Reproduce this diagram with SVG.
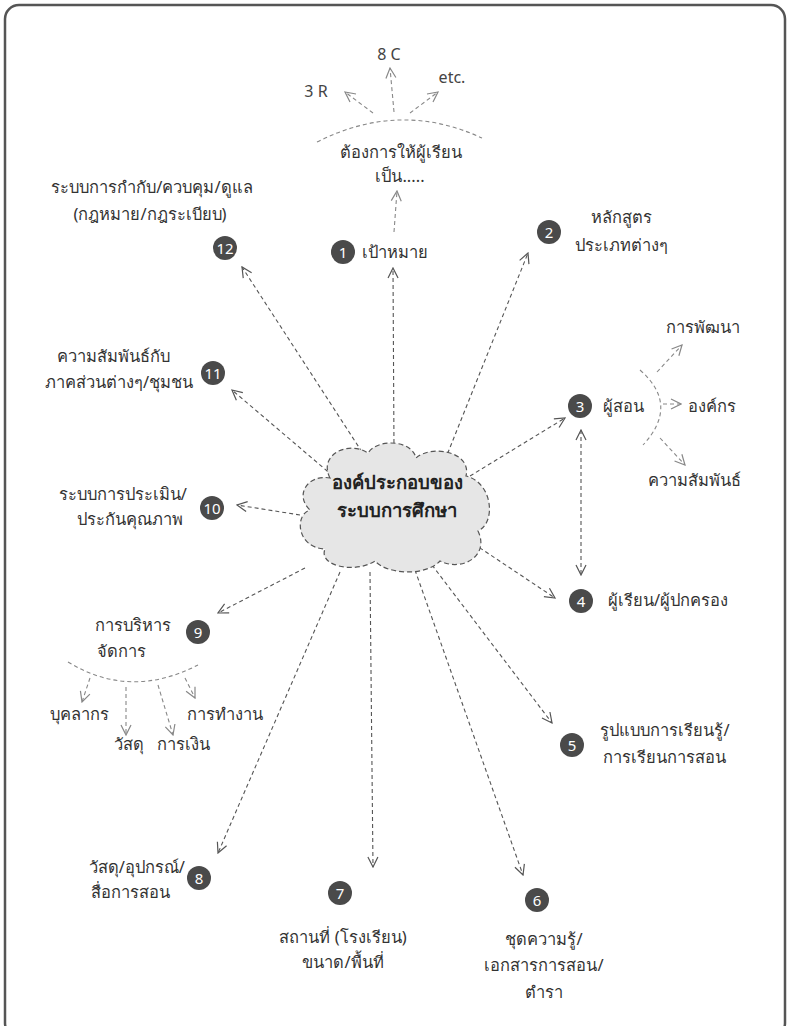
<svg xmlns="http://www.w3.org/2000/svg" width="789" height="1026" viewBox="0 0 789 1026">
<defs>
<marker id="ah" viewBox="0 0 12 12" refX="11" refY="6" markerWidth="12" markerHeight="12" markerUnits="userSpaceOnUse" orient="auto">
<path d="M1,1 L11,6 L1,11" fill="none" stroke="#555" stroke-width="1.2"/>
</marker>
<marker id="ah2" viewBox="0 0 12 12" refX="11" refY="6" markerWidth="12" markerHeight="12" markerUnits="userSpaceOnUse" orient="auto">
<path d="M1,1 L11,6 L1,11" fill="none" stroke="#888" stroke-width="1.2"/>
</marker>
<marker id="ahs" viewBox="0 0 12 12" refX="1" refY="6" markerWidth="12" markerHeight="12" markerUnits="userSpaceOnUse" orient="auto">
<path d="M11,1 L1,6 L11,11" fill="none" stroke="#555" stroke-width="1.2"/>
</marker>
</defs>
<style>
text{font-family:"Noto Sans","Liberation Sans",sans-serif;font-size:16.5px;fill:#333}
.lat{font-size:16px;fill:#444}
.c{text-anchor:middle}
.e{text-anchor:end}
.num{font-size:15px;fill:#fff;text-anchor:middle}
.badge{fill:#4a4a4a}
.conn{fill:none;stroke:#555;stroke-width:1.1;stroke-dasharray:4 3}
.sub{fill:none;stroke:#888;stroke-width:1.1;stroke-dasharray:4 3}
.title{font-size:18.5px;font-weight:bold;fill:#222;text-anchor:middle}
</style>
<rect x="5" y="5" width="780" height="1032" rx="14" fill="#fff" stroke="#555" stroke-width="2.5"/>

<g id="connectors">
<line class="conn" x1="362" y1="452" x2="242" y2="267" marker-end="url(#ah)"/>
<line class="conn" x1="394" y1="450" x2="393" y2="268" marker-end="url(#ah)"/>
<line class="conn" x1="445" y1="460" x2="528" y2="253" marker-end="url(#ah)"/>
<line class="conn" x1="333" y1="476" x2="232" y2="390" marker-end="url(#ah)"/>
<line class="conn" x1="470" y1="476" x2="565" y2="418" marker-end="url(#ah)"/>
<line class="conn" x1="300" y1="515" x2="237" y2="505" marker-end="url(#ah)"/>
<line class="conn" x1="462" y1="536" x2="555" y2="598" marker-end="url(#ah)"/>
<line class="conn" x1="305" y1="568" x2="218" y2="613" marker-end="url(#ah)"/>
<line class="conn" x1="432" y1="565" x2="552" y2="723" marker-end="url(#ah)"/>
<line class="conn" x1="340" y1="572" x2="218" y2="853" marker-end="url(#ah)"/>
<line class="conn" x1="370" y1="572" x2="373" y2="867" marker-end="url(#ah)"/>
<line class="conn" x1="415" y1="570" x2="523" y2="875" marker-end="url(#ah)"/>
<line class="conn" x1="581" y1="430" x2="581" y2="575" marker-start="url(#ahs)" marker-end="url(#ah)"/>
<line class="sub" x1="394" y1="232" x2="397" y2="191" marker-end="url(#ah2)"/>
<path class="sub" d="M317,142 Q400,100 482,138"/>
<line class="sub" x1="373" y1="113" x2="345" y2="92" marker-end="url(#ah2)"/>
<line class="sub" x1="394" y1="112" x2="390" y2="68" marker-end="url(#ah2)"/>
<line class="sub" x1="410" y1="113" x2="438" y2="92" marker-end="url(#ah2)"/>
<path class="sub" d="M640,370 Q680,405 643,445"/>
<line class="sub" x1="657" y1="372" x2="682" y2="345" marker-end="url(#ah2)"/>
<line class="sub" x1="663" y1="404" x2="681" y2="404" marker-end="url(#ah2)"/>
<line class="sub" x1="660" y1="438" x2="685" y2="465" marker-end="url(#ah2)"/>
<path class="sub" d="M68,662 Q130,700 198,665"/>
<line class="sub" x1="90" y1="678" x2="82" y2="702" marker-end="url(#ah2)"/>
<line class="sub" x1="126" y1="687" x2="126" y2="735" marker-end="url(#ah2)"/>
<line class="sub" x1="158" y1="685" x2="173" y2="735" marker-end="url(#ah2)"/>
<line class="sub" x1="185" y1="678" x2="195" y2="698" marker-end="url(#ah2)"/>
</g>

<g id="center">
<path d="M330,478 C318,455 348,440 368,453 C378,438 412,440 416,458 C432,444 472,452 466,476 C492,482 497,522 478,531 C490,556 462,572 440,561 C425,577 386,574 375,561 C355,574 318,566 325,549 C297,548 294,515 310,510 C294,495 308,474 330,478 Z" fill="#e6e6e6" stroke="#555" stroke-width="1.2" stroke-dasharray="5 3"/>
<text class="title" x="397" y="489">องค์ประกอบของ</text>
<text class="title" x="397" y="517">ระบบการศึกษา</text>
</g>

<g id="n1">
<circle class="badge" cx="343" cy="252" r="12"/><text class="num" x="343" y="257.5">1</text>
<text x="362" y="258">เป้าหมาย</text>
<text class="c" x="401" y="158">ต้องการให้ผู้เรียน</text>
<text class="c" x="400" y="182">เป็น.....</text>
<text class="c lat" x="389" y="60">8 C</text>
<text class="c lat" x="316" y="97">3 R</text>
<text class="c lat" x="452" y="83">etc.</text>
</g>
<g id="n2">
<circle class="badge" cx="549" cy="232" r="12"/><text class="num" x="549" y="237.5">2</text>
<text class="c" x="621" y="223">หลักสูตร</text>
<text class="c" x="621" y="251">ประเภทต่างๆ</text>
</g>
<g id="n3">
<circle class="badge" cx="580" cy="406" r="12"/><text class="num" x="580" y="411.5">3</text>
<text x="603" y="412">ผู้สอน</text>
<text class="c" x="703" y="333">การพัฒนา</text>
<text x="688" y="412">องค์กร</text>
<text class="c" x="694" y="486">ความสัมพันธ์</text>
</g>
<g id="n4">
<circle class="badge" cx="581" cy="601" r="12"/><text class="num" x="581" y="606.5">4</text>
<text x="608" y="606">ผู้เรียน/ผู้ปกครอง</text>
</g>
<g id="n5">
<circle class="badge" cx="572" cy="745" r="12"/><text class="num" x="572" y="750.5">5</text>
<text class="c" x="665" y="736">รูปแบบการเรียนรู้/</text>
<text class="c" x="664" y="763">การเรียนการสอน</text>
</g>
<g id="n6">
<circle class="badge" cx="537" cy="900" r="12"/><text class="num" x="537" y="905.5">6</text>
<text class="c" x="544" y="945">ชุดความรู้/</text>
<text class="c" x="544" y="971">เอกสารการสอน/</text>
<text class="c" x="544" y="998">ตำรา</text>
</g>
<g id="n7">
<circle class="badge" cx="340" cy="893" r="12"/><text class="num" x="340" y="898.5">7</text>
<text class="c" x="343" y="943">สถานที่ (โรงเรียน)</text>
<text class="c" x="343" y="968">ขนาด/พื้นที่</text>
</g>
<g id="n8">
<circle class="badge" cx="199" cy="878" r="12"/><text class="num" x="199" y="883.5">8</text>
<text class="e" x="185" y="873">วัสดุ/อุปกรณ์/</text>
<text class="e" x="170" y="898">สื่อการสอน</text>
</g>
<g id="n9">
<circle class="badge" cx="198" cy="632" r="12"/><text class="num" x="198" y="637.5">9</text>
<text class="c" x="133" y="631">การบริหาร</text>
<text class="c" x="121" y="657">จัดการ</text>
<text class="c" x="79" y="720">บุคลากร</text>
<text class="c" x="129" y="750">วัสดุ</text>
<text class="c" x="183" y="750">การเงิน</text>
<text x="187" y="720">การทำงาน</text>
</g>
<g id="n10">
<circle class="badge" cx="212" cy="508" r="12"/><text class="num" x="212" y="513.5">10</text>
<text class="e" x="187" y="500">ระบบการประเมิน/</text>
<text class="e" x="183" y="525">ประกันคุณภาพ</text>
</g>
<g id="n11">
<circle class="badge" cx="213" cy="373" r="12"/><text class="num" x="213" y="378.5">11</text>
<text class="c" x="113" y="362">ความสัมพันธ์กับ</text>
<text class="c" x="119" y="388">ภาคส่วนต่างๆ/ชุมชน</text>
</g>
<g id="n12">
<circle class="badge" cx="225" cy="248" r="12"/><text class="num" x="225" y="253.5">12</text>
<text class="c" x="152" y="193">ระบบการกำกับ/ควบคุม/ดูแล</text>
<text class="c" x="150" y="220">(กฎหมาย/กฎระเบียบ)</text>
</g>
</svg>
